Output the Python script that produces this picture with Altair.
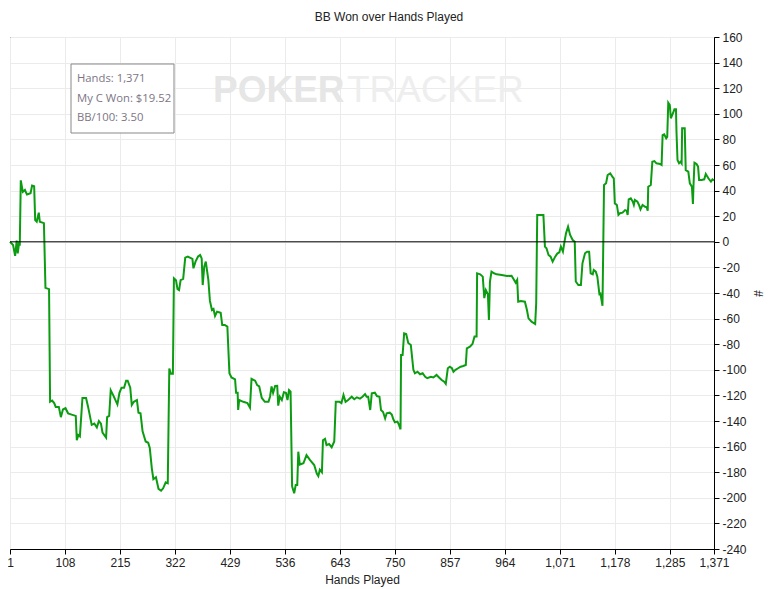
import altair as alt
import pandas as pd

hands = [1, 7, 11, 14, 16, 19, 20, 22, 26, 30, 34, 41, 44, 48, 50, 53, 57, 59, 67, 70, 77,
         79, 83, 87, 90, 96, 100, 104, 109, 114, 121, 129, 131, 134, 137, 142, 149, 153, 160,
         165, 170, 174, 178, 181, 188, 190, 194, 197, 202, 210, 214, 218, 223, 227, 230, 235,
         238, 242, 248, 251, 255, 259, 265, 270, 273, 277, 280, 285, 290, 295, 299, 304, 308,
         311, 314, 318, 320, 324, 327, 330, 333, 338, 342, 347, 356, 358, 362, 367, 371, 374,
         376, 379, 382, 387, 390, 394, 397, 400, 404, 411, 414, 419, 424, 428, 432, 439, 441,
         444, 445, 447, 455, 463, 468, 471, 478, 482, 486, 491, 497, 504, 507, 510, 513, 517,
         521, 523, 526, 530, 534, 538, 541, 544, 547, 550, 554, 557, 560, 562, 565, 572, 578,
         585, 593, 598, 601, 604, 608, 610, 614, 617, 622, 627, 632, 635, 642, 646, 650, 654,
         659, 666, 671, 676, 682, 687, 692, 695, 698, 702, 705, 711, 715, 720, 723, 727, 731,
         734, 740, 744, 747, 750, 755, 758, 761, 762, 765, 768, 772, 776, 781, 786, 789, 794,
         799, 804, 809, 813, 820, 825, 831, 836, 841, 846, 849, 853, 857, 861, 864, 868, 873,
         878, 883, 888, 890, 896, 901, 905, 909, 910, 916, 921, 924, 927, 931, 933, 935, 938,
         943, 948, 958, 968, 977, 980, 985, 988, 990, 995, 1003, 1007, 1010, 1016, 1023, 1025,
         1027, 1032, 1039, 1042, 1045, 1049, 1053, 1057, 1062, 1066, 1070, 1073, 1077, 1080,
         1083, 1087, 1091, 1096, 1100, 1102, 1107, 1112, 1115, 1120, 1124, 1128, 1131, 1135,
         1137, 1141, 1144, 1148, 1150, 1154, 1157, 1161, 1164, 1169, 1174, 1176, 1178, 1182,
         1185, 1188, 1193, 1198, 1201, 1203, 1205, 1209, 1213, 1215, 1217, 1222, 1225, 1228,
         1232, 1237, 1240, 1242, 1243, 1248, 1251, 1255, 1259, 1266, 1269, 1271, 1274, 1278,
         1280, 1282, 1285, 1287, 1291, 1294, 1297, 1298, 1300, 1303, 1306, 1308, 1309, 1314,
         1316, 1321, 1324, 1328, 1330, 1331, 1333, 1337, 1340, 1342, 1347, 1352, 1355, 1360,
         1365, 1368, 1371]

bb_won = [0, -2.5, -11, 1, -9, 0, -3, 48, 39, 40.5, 37, 38, 44, 43.5, 17, 15.7, 22.8, 15.7,
          14.6, -36, -37, -125, -124, -126, -129, -129, -137, -131, -130, -134, -135, -136,
          -155, -151, -152, -122, -122, -129, -143, -142, -145, -140, -142, -149, -153, -137,
          -136, -116, -120, -127, -118, -114, -114, -108.5, -108.5, -114, -127.5, -125, -123.6,
          -133.5, -134, -148, -156, -157, -161, -177, -185.5, -184, -193, -194.5, -192.6, -188,
          -188.7, -99, -103, -103, -28.5, -30, -37, -37.7, -30, -29, -12.4, -11.6, -13.4,
          -20.7, -15.5, -11.5, -10.3, -13, -33.8, -19.4, -15.5, -29.8, -46, -53.3, -52.5, -58,
          -54.6, -55.4, -65, -65, -66.3, -102.7, -106, -107.5, -118, -118, -131.4, -123.6,
          -125, -126, -129.6, -107, -108.5, -112, -113, -122, -125, -125, -121, -113, -118,
          -112.6, -112.5, -128, -121, -123.6, -117.6, -118, -123.6, -115.8, -117, -191,
          -196.5, -190, -190, -164, -174, -173, -166.6, -170.5, -174.4, -181, -183, -178, -180,
          -155, -154, -158.8, -158, -160.5, -156, -125, -125, -126, -119.7, -125, -123.6, -121,
          -123, -121.5, -122.5, -121, -119, -121, -121, -131.4, -118.4, -117.9, -120.5, -121,
          -131.4, -133, -138, -134, -133.5, -135, -138.7, -141, -140.5, -143, -146.5, -88.4,
          -88.4, -71.5, -72, -79, -80.6, -100, -102.7, -101.5, -103.5, -102.7, -105.5, -106.6,
          -105.5, -106, -104, -106, -108, -109.3, -111, -98.8, -97.6, -98.8, -101.5, -100,
          -98.8, -97.6, -97, -96.2, -83.2, -82, -79.8, -74, -74, -24.6, -25.4, -27.2, -44,
          -37.7, -41, -61, -31, -23.3, -24.6, -25.4, -26, -26.8, -26.5, -28.5, -32, -29.8,
          -46.8, -46.3, -46.8, -53.3, -59.8, -62.4, -64.2, -48, 21, 21, 21, -3.8, -5, -10.3,
          -11.6, -15.5, -11.6, -9.2, -8.2, -3.8, -7.7, 0, 6.6, 11.8, 5.3, 1.4, 0, -31, -33.8,
          -33.8, -16.8, -9, -7.7, -7.7, -24.6, -25.4, -22, -23.3, -27.2, -40.8, -40.5, -50,
          44.4, 45.7, 52.2, 53.5, 50.4, 49.6, 30, 28.8, 21, 22.3, 22.8, 24.8, 24.3, 21, 33.2,
          34, 31.3, 28.8, 32.7, 31.3, 28.8, 25.4, 28.8, 27.4, 27, 24.3, 43, 44.4, 62.6, 63.1,
          61.3, 60.8, 60, 83.4, 84, 80.9, 82, 108.7, 106.9, 96.5, 100.4, 103.5, 103.5, 86,
          63.9, 61.3, 62.6, 61.3, 88.7, 88.7, 56, 54.8, 45.7, 43, 29.5, 43, 61.8, 60.8, 58.7,
          48.3, 48.3, 48.8, 53, 49.6, 47, 48.8, 48]

x_ticks = [1, 108, 215, 322, 429, 536, 643, 750, 857, 964, 1071, 1178, 1285, 1371]
y_ticks = list(range(-240, 161, 20))
info_lines = ["Hands: 1,371", "My C Won: $19.52", "BB/100: 3.50"]
watermark_words = ["POKER", "TRACKER"]

df = pd.DataFrame({"hand": hands, "bb": bb_won})
zero_df = pd.DataFrame({"bb": [0]})

FONT = "Liberation Sans"

x_scale = alt.Scale(domain=[1, 1371], nice=False, zero=False)
y_scale = alt.Scale(domain=[-240, 160], nice=False)

x_axis = alt.Axis(values=x_ticks, format=",d", title="Hands Played", grid=True,
                  gridColor="#ebebeb", domainColor="#000", tickColor="#000", tickSize=5,
                  labelColor="#222", labelFont=FONT, labelFontSize=12, labelPadding=3,
                  titleFont=FONT, titleFontSize=12, titleFontWeight="normal",
                  titleColor="#222", titlePadding=6, labelFlush=False, labelOverlap=False)
y_axis = alt.Axis(orient="right", values=y_ticks, title="#", grid=True,
                  gridColor="#ebebeb", domainColor="#000", tickColor="#000", tickSize=5,
                  labelColor="#222", labelFont=FONT, labelFontSize=12, labelPadding=3,
                  labelExpr="datum.value < 0 ? '-' + abs(datum.value) : '' + datum.value",
                  titleFont=FONT, titleFontSize=12, titleFontWeight="normal",
                  titleColor="#222", titlePadding=4, titleAngle=90, labelOverlap=False)

line = alt.Chart(df).mark_line(color="#0c9c12", strokeWidth=2, interpolate="linear").encode(
    x=alt.X("hand:Q", scale=x_scale, axis=x_axis),
    y=alt.Y("bb:Q", scale=y_scale, axis=y_axis),
)

zero_rule = alt.Chart(zero_df).mark_rule(color="#000", strokeWidth=1).encode(
    y=alt.Y("bb:Q", scale=y_scale, axis=y_axis)
)

wm1 = alt.Chart(pd.DataFrame({"t": [watermark_words[0]]})).mark_text(
    font=FONT, fontSize=37, fontWeight="bold", color="#e6e6e6",
    align="left", baseline="alphabetic").encode(
    text="t:N", x=alt.value(203), y=alt.value(65))
wm2 = alt.Chart(pd.DataFrame({"t": [watermark_words[1]]})).mark_text(
    font=FONT, fontSize=37, fontWeight="normal", color="#eeeeee",
    align="left", baseline="alphabetic").encode(
    text="t:N", x=alt.value(337), y=alt.value(65))

box = alt.Chart(zero_df).mark_rect(fill="white", stroke="#888", strokeWidth=1).encode(
    x=alt.value(61), x2=alt.value(164), y=alt.value(27), y2=alt.value(96)
)

info_df = pd.DataFrame({"t": info_lines, "py": [45, 65, 84]})
info = alt.Chart(info_df).mark_text(font="Open Sans", fontSize=11.3, color="#7d7585",
                                    align="left", baseline="alphabetic").encode(
    text="t:N", x=alt.value(67), y=alt.Y("py:Q", scale=None)
)

chart = alt.layer(line, zero_rule, wm1, wm2, box, info).properties(
    width=704, height=512,
    title=alt.TitleParams("BB Won over Hands Played", font=FONT, fontSize=12,
                          fontWeight="normal", color="#222", anchor="middle",
                          dx=27, offset=7),
    autosize=alt.AutoSizeParams(type="none"),
    padding={"left": 2, "top": 29, "right": 50, "bottom": 40},
).configure_view(stroke="#000", strokeWidth=1)

chart.save("out.html", embed_options={"renderer": "svg", "actions": False})
